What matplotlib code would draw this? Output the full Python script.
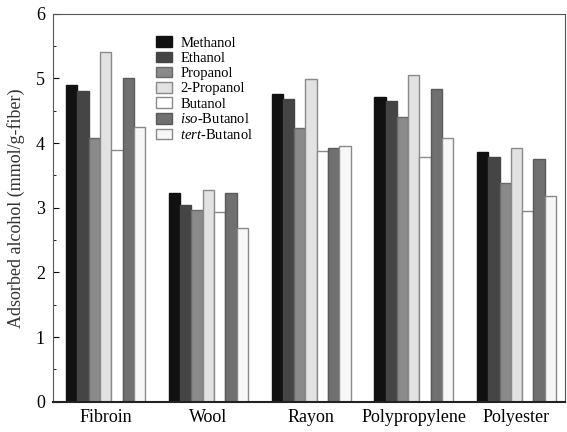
import matplotlib
matplotlib.use("Agg")
import matplotlib.pyplot as plt
import numpy as np

plt.rcParams['font.family'] = ['Liberation Serif', 'DejaVu Serif']
plt.rcParams['mathtext.fontset'] = 'custom'
plt.rcParams['mathtext.it'] = 'Liberation Serif:italic'
plt.rcParams['mathtext.rm'] = 'Liberation Serif'

fibers = ["Fibroin", "Wool", "Rayon", "Polypropylene", "Polyester"]
alcohols = ["Methanol", "Ethanol", "Propanol", "2-Propanol", "Butanol",
            r"$\it{iso}$-Butanol", r"$\it{tert}$-Butanol"]

# adsorbed amount (mmol/g-fiber), one list per alcohol, in fiber order
methanol = [4.90, 3.23, 4.76, 4.71, 3.86]
ethanol = [4.81, 3.04, 4.69, 4.65, 3.78]
propanol = [4.08, 2.97, 4.24, 4.41, 3.39]
propanol_2 = [5.41, 3.28, 4.99, 5.05, 3.92]
butanol = [3.89, 2.93, 3.88, 3.78, 2.95]
iso_butanol = [5.00, 3.23, 3.92, 4.83, 3.75]
tert_butanol = [4.25, 2.68, 3.96, 4.08, 3.19]

series = [methanol, ethanol, propanol, propanol_2, butanol, iso_butanol, tert_butanol]
faces = ["#111111", "#454545", "#8a8a8a", "#e2e2e2", "#ffffff", "#707070", "#f7f7f7"]
edges = ["#111111", "#454545", "#6a6a6a", "#8a8a8a", "#8a8a8a", "#5a5a5a", "#8a8a8a"]

fig, ax = plt.subplots(figsize=(5.67, 4.32), dpi=100)
fig.subplots_adjust(left=0.094, right=0.996, top=0.968, bottom=0.07)

x = np.arange(len(fibers))
w = 0.11
for i, vals in enumerate(series):
    ax.bar(x + (i - 3) * w, vals, w, color=faces[i], edgecolor=edges[i],
           linewidth=1.0, label=alcohols[i])

ax.set_xlim(-0.51, 4.47)
ax.set_ylim(0, 6)
ax.set_xticks(x)
ax.set_xticklabels(fibers, fontsize=13)
ax.set_yticks(range(0, 7))
ax.set_yticks(np.arange(0, 6.01, 0.5), minor=True)
ax.tick_params(axis='y', direction='in', labelsize=13, length=4, pad=6)
ax.tick_params(axis='y', which='minor', direction='in', length=2)
ax.tick_params(axis='x', length=0, pad=5)
ax.set_ylabel("Adsorbed alcohol (mmol/g-fiber)", fontsize=13, color="#333333",
              labelpad=8)
for s in ax.spines.values():
    s.set_color("#555555")
ax.spines['bottom'].set_color("#222222")
ax.spines['bottom'].set_linewidth(1.5)

ax.legend(loc="upper left", bbox_to_anchor=(0.18, 0.968), frameon=False,
          fontsize=10.5, handlelength=1.1, handleheight=0.75, handletextpad=0.6,
          labelspacing=0.12, borderpad=0.2)

fig.savefig("out.png")
